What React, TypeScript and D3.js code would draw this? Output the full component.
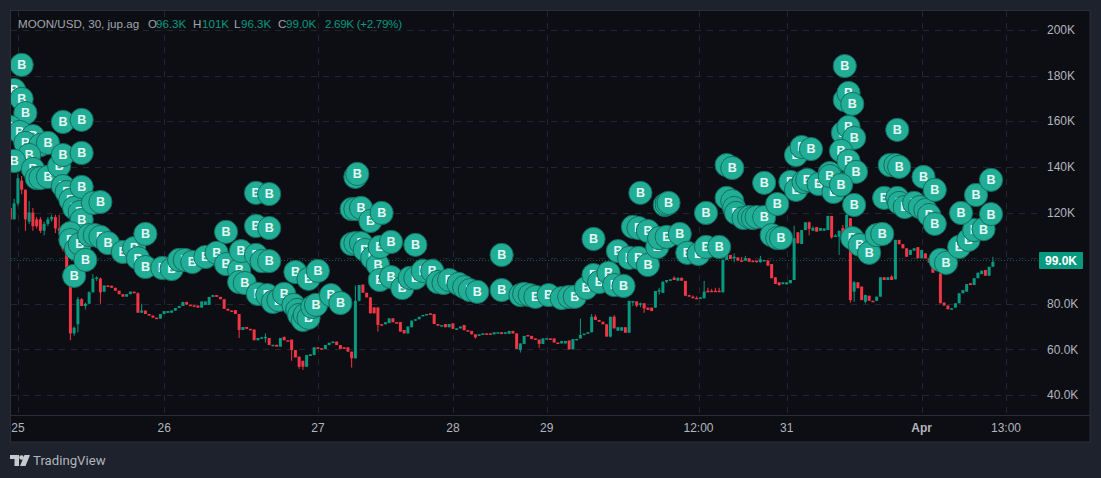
import React from "react";
import * as d3 from "d3";

// candles: [open, close, high?, low?] in thousands
type C = number[];
const candlesA: C[] = [[122,117,122,107],[117,124,126,117],[124,135,137,123],[134,130,136,128],[130,117,130,112],[116,120,125,115],[120,114,122,112],[117,114,118,113],[117,112,118,111],[112,115,116,110],[115,117,118,114],[117,118,119,116],[118,113,119,111],[113,112,119,110],[112,104,113,103],[104,95,105,94],[95,67,95,64],[67,69.5,70,66],[71,82,83,67.5],[82,79,82.5,79],[79,80,80.5,77.5],[80,85,85.5,80],[85,91,93,85],[91,91.5,92,90],[91,85,91.5,80]];
const candlesAStart = 0;
const candlesB: C[] = [[85.3,88],[88,87.5],[87.9,87],[87,85.7],[85.7,84.2],[84.2,83.1],[83.1,84.2],[84.2,85.3],[85.3,84.6],[84.6,76.1,85,76],[76.1,77,80,76],[77,75.5],[75.5,74.8],[74.8,73.9],[73.9,73.5],[73.5,75.5],[75.5,76.8],[76,76.8],[76.1,77],[77,78.1],[78.1,79],[79,80.8],[80.8,79.6],[79.6,79.3],[79.3,79.2],[79.2,78.3],[78.3,81],[79.5,81],[79.5,83],[83,83.8],[83.8,83],[83,82],[82,77.8],[77.8,77],[77,76.8],[77.2,75.5],[75.5,68.5,75.5,65],[68.5,69.8],[69.8,69],[69,68.7],[68.7,64],[64,65],[65,65.3],[65,65.5,67,63],[65,61.9],[61.5,62],[62,61.2],[61.2,65],[65.5,64],[64,63.8],[64.3,59.7,64.3,55],[59.7,56.5]];
const candlesBStart = 25;
const candlesC: C[] = [[56.8,52.4,56.8,51.5],[55,52.4,55,51],[52.4,57.5],[57.4,57.8],[57.5,60.9],[60.9,60.2],[60.5,60.2],[60.2,61.9],[61.9,62.9],[62.9,63.4],[63.4,61.9],[61.9,60.2],[60.9,60.2],[60.9,59],[59,56.1,59,52],[56.1,81.3,88,56],[81.3,88.2,88.2,81],[88.4,84.8],[84.8,82.8],[82.8,75.8],[78.4,75.8],[78.4,70.7,78.4,67.8],[71,70.8],[71,71.9],[71.5,73.6],[73.6,71.9],[71.9,71.7],[72,67.8],[68.5,67],[67,70],[69.7,72.6],[72.6,73.2],[73.2,74.3],[74.9,75.1],[75.1,75.5],[75.8,75.5],[75.5,71.1],[71.1,70.4],[70.4,70.6],[71.1,69.7],[69.7,71.1],[71.4,69],[69,69.2],[69.2,70],[70.7,68.4],[68.4,68.1],[68.1,66.6],[66.6,65.3,66.6,64.7],[65.9,66.6],[66.6,67],[67,66.8],[67,66.6],[66.6,67.5],[67.3,67.5],[67.5,66.7],[66.8,67.5],[66.8,68.1],[68.1,67],[67,60.2],[59.7,62.6,62.6,58.6],[62.4,65.9],[66.3,65.9],[65.9,64.5],[64.8,64.3],[64.3,62.4,64.3,60.7],[62.4,64.8],[64.8,64.9],[64.8,64.7],[64.8,63],[63,62.9],[62.6,63.7],[62.6,63.7],[63.9,60],[60,64.5],[64.5,64.6],[64.8,66.3,73.5,64.8],[66.3,66.9],[66.9,67.5],[67.5,74.3,75.5,67.5]];
const candlesCStart = 77;
const candlesD: C[] = [[74.3,72.9,75.2],[72.9,72.1],[72.1,71],[71,65.6],[65.6,74.3,74.3,65.3],[74.3,69.2,75.1],[68.2,69.7],[68.2,69.7],[69.7,67.3],[67.3,81.2,81.5,67.3],[81,81.2,81.2,79],[81,79.2,81,78.5],[80,80.2,80.5,78.5],[80.2,78,80.2,76],[78.3,77.3],[78.3,76.8],[78.3,85.6],[85.6,86,87,84],[84.8,89.7],[89.7,90.4,90.4,89],[90.4,90.7],[91.4,90.4,92],[90.1,91.4],[91.4,90.1],[90,83.5],[83.8,83.1],[83.1,82.4,83.6],[82.6,82.4,83.2,82.3],[82.4,82.8],[82.4,85.3,90,82.4],[85.7,85.4,87,85],[85.7,85.6,86.5],[85.7,85.5,87],[85.7,85.5,87],[85,99.2,99.5,85],[99.2,101.4],[101.4,99.6],[100.2,100.6,102,98.2],[100.3,98.9],[99,98.9,100.5],[98.9,100,101],[99.9,98.4],[98.9,98.8],[98.9,98.6,98.9,98],[98.2,99.5,101,98],[99,99.2],[99,96.7],[97.4,91.2],[91.6,88.7],[89.4,88.2,89.4,87.8],[88.6,89.4],[88.5,89.4],[89,90.4],[90.4,108.7,114.2,90.4],[111.3,106.5],[106.2,112.3],[112.3,115.7],[115.7,112.8,116,110],[112,113.2,114],[113.6,111.6],[112,113.2],[112,113],[112.3,118.5],[118.5,109.1,118.5,108.5],[109.7,109.9,110.5],[109.4,112,112,101.4],[113.2,110.9,114.5],[108.3,118.9,120]];
const candlesDStart = 156;
const candlesE: C[] = [[117.5,81.6,117.5,80.5],[85.3,89.4,90,80.9],[89.4,86.8],[87.5,81.6],[80.9,83.8,84,80.2],[83.5,81.3],[81.3,81],[81.3,83.1],[83.1,91.6],[91.6,90.4],[90.4,91.6],[91.9,90.4,92.5],[90.7,108],[108,106.1],[106.1,104.3],[104.3,100.6],[101.4,103.6],[103.3,104.3],[104.8,99.9],[99.9,103.6],[102.1,99.9],[99.9,98],[97.7,93.6],[95,95.5],[93.3,80.2],[80.5,79.2],[79.2,77.6],[77.6,78],[78.3,80.2],[80.2,84.6],[84.6,86],[85.3,88.6],[89,88.2],[88.2,91.2],[91.2,93.6],[93,94.5],[94.8,92.3],[92.3,96.2],[96.2,98.4,100.6,96.2]];
const candlesEStart = 224;

// buy markers: [bar, price in thousands]
const buysA = [[1,173.7],[3,169.8],[4,163.6],[0,157.5],[2.5,155.3],[6,153.5],[4,150.5],[8,149.6],[10,150.5],[5,145.2],[1,142.6],[6,139.1],[7,135.1],[8,135.1],[10,135.6],[3,184.7],[13,140.4],[14,145.2],[19,146.1],[14,159.7],[19,160.6],[14,131.6],[15,129],[16,125.5],[17,122],[18.5,120.2],[19,131.2],[19,116.7],[22,124.2],[24,124.6],[16,111],[16,108],[17.5,104],[18.5,106.2],[17,92.2],[20,99.2],[21,110.1],[22.5,110.1],[24,109.3],[26,106.6]];
const buysB = [[30,102.7],[33,104.4],[36,110.6],[34,100],[36,96.1],[40.5,95.7],[43,95.2],[45,99.2],[46.5,99.2],[48.5,98.3],[52,100.5],[55,102.3],[57.5,111.5],[57.5,97.4],[61,94.8],[61.5,103.1],[65.5,101.4],[67,98.7],[69,98.7],[65.5,128.6],[69,128.1],[65.5,114.1],[69,113.2],[61,89.5],[62.5,89.1],[66,84.3],[68.5,83.8],[70,80.8],[71.5,81.6],[73,84.3],[76,93.9]];
const buysC = [[75.5,79.5],[76.5,77.3],[77,75.1],[78,72.9],[78.5,75.1],[79.5,73.8],[80.5,78.6],[81.5,79.5],[79.5,90.9],[82,94.4],[85.5,83.8],[88,80.3]];
const buysD = [[92,135.6],[92.5,136.9],[91,121.5],[92,121.5],[93.5,122],[96,116.3],[99,119.8],[91,106.2],[92,106.6],[93.5,106.6],[94.5,103.6],[96.5,100.1],[98,97],[98.5,104.9],[101.5,107.1],[108,105.8],[98.5,90.4],[101.5,91.7],[104.5,86.9],[106.5,91.3],[108,91.3],[110,94.4],[112.5,94.4],[114,89.5],[115.5,89.1],[117,90.4],[119.5,88.7],[121,87.3],[122.5,86],[124.5,85.2],[131,101.4],[131,86],[136,83.8],[137,84.3],[138.5,83.8],[140,83],[143.5,83.8],[147,82.5],[149,83],[150.5,83],[153.5,86.9],[155.5,92.6],[157,89.5],[159.5,93.5],[161,88.2],[163.5,87.8]];
const buysE = [[155.5,108.4],[162,103.1],[165,100.1],[167.5,100.1],[170,97],[166,113.7],[167.5,113.2],[170,111.9],[172.5,104.9],[173,108.8],[175,109.3],[178.5,110.6],[180.5,102.3],[183.5,101.8],[185.5,104.9],[189,104.9],[168,128.6],[174.5,123.3],[175,123.7],[175.5,124.2]];
const buysF = [[185.5,119.8],[191,140.8],[192.5,139.5],[191,126.4],[192.5,125],[193,122],[193.5,119.8],[195.5,117.6],[197,118],[198,117.6],[199,118],[201,118],[201,133],[204.5,123.7],[203,110.1],[204.5,108.8],[205.5,108.8],[208,133.4],[209.5,129.9],[211.5,133.4],[212.5,134.3],[215.5,132.5],[218.5,137.3],[209.5,145.2],[211,148.7],[213.5,147.8],[219.5,129],[221.5,132.5]];
const buysG = [[218.5,136],[222.5,184.2],[222.5,169.3],[223.5,172.4],[224.5,167.6],[222,154.9],[223.5,157.5],[225,152.7],[221.5,147],[223.5,142.6],[225.5,137.8],[221.5,132.1],[225,123.3],[224.5,108.8],[226.5,105.8],[229,102.3],[231,110.1],[232.5,110.6],[236.5,156.2],[234.5,140.8],[236,140.8],[237,140],[233,126.4],[236.5,126.4],[237,124.2],[238.5,122.4],[241,124.2],[242.5,122.4],[244,121.1],[245,118.9],[246.5,115],[243.5,135.6],[246.5,129.9],[248,99.2],[249.5,97.9],[253,104.9],[255.5,108],[257,112.3],[259.5,112.7],[253.5,119.8],[257.5,127.7],[261.5,134.3],[261.5,119.3]];

const priceTicks = [200,180,160,140,120,100,80,60,40];
const priceLabels = ["200K","180K","160K","140K","120K","","80.0K","60.0K","40.0K"];
const timeBars = [2,41,82,118,143,183.5,207,243,265.5];
const timeLabels = ["25","26","27","28","29","12:00","31","Apr","13:00"];
const lastPrice = 99;
const legendParts: [string,number,boolean][] = [["MOON/USD, 30, jup.ag",18,false],["O",148,false],["96.3K",156,true],["H",193,false],["101K",202,true],["L",234,false],["96.3K",241,true],["C",278,false],["99.0K",286,true],["2.69K (+2.79%)",325,true]];

const UP = "#089981", DOWN = "#f23645", MARK = "#21ad96", MARKEDGE = "#126f61";
const FONT = "'Liberation Sans', Arial, sans-serif";

export default function App() {
  const y = d3.scaleLinear().domain([40,200]).range([395,30]);
  const x = d3.scaleLinear().domain([0,262]).range([10.4,992.9]);
  const bars = ([[candlesA,candlesAStart],[candlesB,candlesBStart],[candlesC,candlesCStart],[candlesD,candlesDStart],[candlesE,candlesEStart]] as [C[],number][])
    .flatMap(([rows,s]) => rows.map((r,i) => ({i:s+i,o:r[0],c:r[1],h:r[2] ?? Math.max(r[0],r[1]),l:r[3] ?? Math.min(r[0],r[1])})));
  const buys = [...buysA,...buysB,...buysC,...buysD,...buysE,...buysF,...buysG];
  return (
    <svg width={1101} height={478} style={{position:"absolute",left:0,top:0,display:"block"}} fontFamily={FONT}>
      <defs><clipPath id="pane"><rect x={11} y={11} width={1027} height={404}/></clipPath></defs>
      <rect width={1101} height={478} fill="#1e222d"/>
      <rect x={10.5} y={10.5} width={1079.5} height={431.5} fill="#0c0e13" stroke="#2a2e39"/>
      <line x1={11} x2={1090} y1={415.5} y2={415.5} stroke="#2a2e39"/>
      <g stroke="#22262e" strokeDasharray="6 6">
        {priceTicks.map(t => <line key={t} x1={11} x2={1038} y1={Math.round(y(t))+.5} y2={Math.round(y(t))+.5}/>)}
        {timeBars.map(b => <line key={b} x1={Math.round(x(b))+.5} x2={Math.round(x(b))+.5} y1={11} y2={415}/>)}
      </g>
      <line x1={11} x2={1038} y1={y(lastPrice)} y2={y(lastPrice)} stroke={UP} strokeOpacity={0.65} strokeDasharray="1 2"/>
      <g clipPath="url(#pane)">
        {bars.map(b => {
          const col = b.c >= b.o ? UP : DOWN, top = y(Math.max(b.o,b.c)), bot = y(Math.min(b.o,b.c));
          return <g key={b.i} fill={col}>
            <rect x={x(b.i)-.5} width={1} y={y(b.h)} height={Math.max(1,y(b.l)-y(b.h))}/>
            <rect x={x(b.i)-1.5} width={3} y={top} height={Math.max(1.5,bot-top)}/>
          </g>;
        })}
        {buys.map(([b,p],k) => <g key={k} transform={`translate(${x(b)},${y(p)})`}>
          <circle r={11.6} fill={MARK} stroke={MARKEDGE} strokeWidth={1}/>
          <text textAnchor="middle" y={4.4} fontSize={12.5} fontWeight={700} fontFamily="'Liberation Sans', sans-serif" fill="#e6f7f3">B</text>
        </g>)}
      </g>
      <g fontSize={12} fill="#b2b5be">
        {legendParts.map(([t,px,val],k) => <text key={k} x={px} y={28} fontSize={11.6} textLength={k===9 ? 77 : undefined} fill={val ? UP : "#a3a6af"}>{t}</text>)}
        {priceTicks.map((t,k) => priceLabels[k] && <text key={t} x={1047} y={y(t)+4.2}>{priceLabels[k]}</text>)}
        {timeBars.map((b,k) => <text key={k} x={x(b)} y={432} textAnchor="middle" fontWeight={timeLabels[k]==="Apr"?700:400}>{timeLabels[k]}</text>)}
      </g>
      <rect x={1039} y={252} width={44} height={17} fill={UP} rx={1}/>
      <text x={1061} y={y(lastPrice)+4.3} textAnchor="middle" fill="#fff" fontSize={12} fontWeight={700}>99.0K</text>
      <g fill="#c7c9d0">
        <path d="M10 455h9v11h-4.5v-7H10z"/>
        <circle cx={21.5} cy={457.5} r={2.3}/>
        <path d="M24.5 455H30l-4.5 11H20z"/>
      </g>
      <text x={33} y={465} fill="#b2b5be" fontSize={13.2} fontFamily="'Roboto', sans-serif">TradingView</text>
    </svg>
  );
}
